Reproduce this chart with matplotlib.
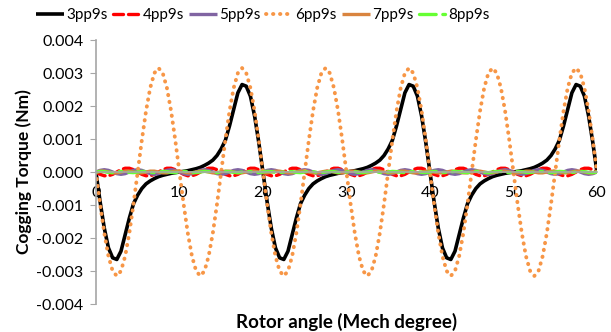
import numpy as np
import matplotlib
matplotlib.use('Agg')
import matplotlib.pyplot as plt

plt.rcParams['font.family'] = ['Lato', 'DejaVu Sans']

# rotor angle grid (mech degree), 0.5 degree step
angle = np.linspace(0, 60, 121)

# cogging torque, in micro-Nm
t3_a = [0, -900, -1700, -2300, -2600, -2650, -2400, -1900, -1400, -960,
        -700, -500, -360, -270, -200, -140, -100, -70, -40, -20]
t3_b = [0, 20, 40, 70, 100, 140, 200, 270, 360, 500,
        700, 960, 1400, 1900, 2400, 2650, 2600, 2300, 1700, 900]
pp3 = t3_a + t3_b + t3_a + t3_b + t3_a + t3_b + [0]

t6_row = [0, -970, -1850, -2550, -3000, -3150, -3000, -2550, -1850, -970,
          0, 970, 1850, 2550, 3000, 3150, 3000, 2550, 1850, 970]
pp6 = t6_row + t6_row + t6_row + t6_row + t6_row + t6_row + [0]

t4_row = [0, -71, -114, -114, -71, 0, 71, 114, 114, 71,
          0, -71, -114, -114, -71, 0, 71, 114, 114, 71]
pp4 = t4_row + t4_row + t4_row + t4_row + t4_row + t4_row + [0]

t5_a = [0, 50, 70, 50, 0, -50, -70, -50, 0, 50, 70, 50, 0, -50, -70, -50, 0, 50, 70, 50]
t5_b = [0, -50, -70, -50, 0, 50, 70, 50, 0, -50, -70, -50, 0, 50, 70, 50, 0, -50, -70, -50]
pp5 = t5_a + t5_b + t5_a + t5_b + t5_a + t5_b + [0]

t7_a = [0, 26, 26, 0, -26, -26, 0, 26, 26, 0, -26, -26, 0, 26, 26, 0, -26, -26, 0, 26]
t7_b = [26, 0, -26, -26, 0, 26, 26, 0, -26, -26, 0, 26, 26, 0, -26, -26, 0, 26, 26, 0]
t7_c = [-26, -26, 0, 26, 26, 0, -26, -26, 0, 26, 26, 0, -26, -26, 0, 26, 26, 0, -26, -26]
pp7 = t7_a + t7_b + t7_c + t7_a + t7_b + t7_c + [0]

t8_row = [0, 19, 12, -12, -19, 0, 19, 12, -12, -19,
          0, 19, 12, -12, -19, 0, 19, 12, -12, -19]
pp8 = t8_row + t8_row + t8_row + t8_row + t8_row + t8_row + [0]

labels = ['3pp9s', '4pp9s', '5pp9s', '6pp9s', '7pp9s', '8pp9s']
series = [pp3, pp4, pp5, pp6, pp7, pp8]
colors = ['black', '#FF0000', '#8064A2', '#F79646', '#D9843F', '#66FF33']
styles = ['-', (0, (3, 1.5)), '-', (0, (0.1, 1.7)), '-', (0, (5, 2, 0.8, 2))]
widths = [2.6, 2.4, 2.4, 2.8, 2.4, 2.4]

fig = plt.figure(figsize=(6.11, 3.32), dpi=100)
ax = fig.add_axes([0.157, 0.0843, 0.82, 0.7952])

for vals, lab, c, ls, lw in zip(series, labels, colors, styles, widths):
    ax.plot(angle, np.array(vals) * 1e-6, color=c, linestyle=ls, lw=lw,
            label=lab, solid_capstyle='butt', dash_capstyle='round')

ax.set_xlim(0, 60)
ax.set_ylim(-0.004, 0.004)
ax.set_xticks([0, 10, 20, 30, 40, 50, 60])
ax.set_yticks(np.arange(-0.004, 0.0041, 0.001))
ax.yaxis.set_major_formatter(matplotlib.ticker.FormatStrFormatter('%.3f'))

for s in ['top', 'right']:
    ax.spines[s].set_visible(False)
ax.spines['bottom'].set_position(('data', 0))
ax.spines['bottom'].set_color('#A6A6A6')
ax.spines['left'].set_color('#A6A6A6')
ax.spines['left'].set_linewidth(1.2)
ax.spines['bottom'].set_linewidth(1.2)
ax.tick_params(axis='y', length=4, color='#A6A6A6', labelsize=11.5, pad=5)
ax.tick_params(axis='x', length=0, labelsize=11.5, pad=10)

ax.set_ylabel('Cogging Torque (Nm)', fontsize=12.5, fontweight='bold', labelpad=3)
ax.set_xlabel('Rotor angle (Mech degree)', fontsize=13.5, fontweight='bold', labelpad=0)
ax.xaxis.set_label_coords(0.5, -0.035)

fig.legend(loc='center', bbox_to_anchor=(263 / 611, 1 - 15 / 332), ncol=6,
           frameon=False, fontsize=11, handlelength=1.8, handletextpad=0.15,
           columnspacing=0.35, borderpad=0.2)

fig.savefig('out.png', dpi=100)
